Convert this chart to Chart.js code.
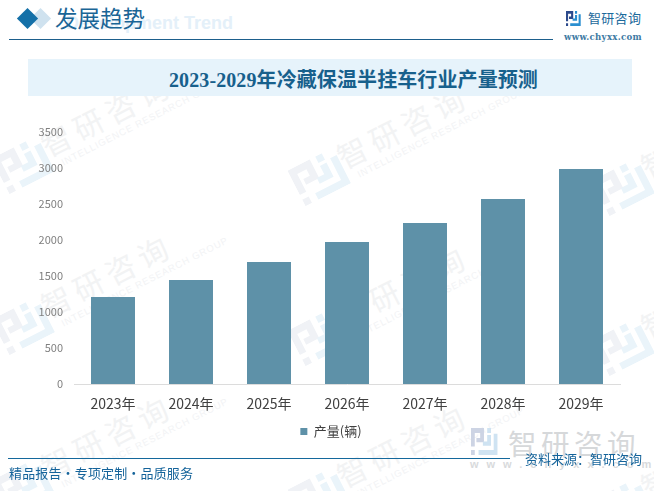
<!DOCTYPE html>
<html>
<head>
<meta charset="utf-8">
<script src="https://cdn.jsdelivr.net/npm/chart.js@4"></script>
<style>
html, body { margin: 0; padding: 0; background: #fff; }
#page { position: relative; width: 654px; height: 491px; overflow: hidden; font-family: "Noto Sans CJK SC", sans-serif; }
#page div, #page svg { position: absolute; white-space: nowrap; }
#marks { left: 0; top: 0; width: 654px; height: 491px; }
.wm { width: 240px; height: 70px; transform: rotate(-27deg); color: #f2f3f4; }
.wm .t { left: 46px; top: 0; font-size: 30px; letter-spacing: 6px; line-height: 40px; }
.wm .e { left: 56px; top: 38px; font-family: "Liberation Sans"; font-size: 9.5px; letter-spacing: .9px; color: #f2f3f5; }
#chartBox { position: absolute; left: 0; top: 0; width: 654px; height: 491px; }
</style>
</head>
<body>
<div id="page">
  <div id="marks"></div>

  <div style="left:33px;top:11px;width:15px;height:15px;background:#cfe2ef;transform:rotate(45deg)"></div>
  <div style="left:20px;top:11px;width:15px;height:15px;background:#1470a8;transform:rotate(45deg)"></div>
  <div style="left:66px;top:11px;font:bold 18px/24px 'Liberation Sans';color:#e4f0f9">Development Trend</div>
  <div style="left:55px;top:1px;font-size:22.5px;line-height:32px;color:#1a6596">发展趋势</div>
  <div style="left:9px;top:39px;width:544px;height:1px;background:#1d5f8c"></div>

  <span id="logoTop"></span>
  <div style="left:588px;top:8px;font-size:13px;line-height:20px;letter-spacing:.3px;color:#1c6a9c">智研咨询</div>
  <div style="left:564px;top:32px;font:bold 8.6px 'DejaVu Serif';letter-spacing:.3px;color:#3d7aa3">www.chyxx.com</div>

  <div style="left:28px;top:59px;width:604px;height:37px;background:#e6f3fb"></div>
  <div id="title" style="left:169px;top:59px;font-weight:bold;font-size:20px;letter-spacing:.1px;line-height:43px;height:37px;color:#17608c;font-family:'Liberation Serif','Noto Sans CJK SC'"></div>

  <span id="logoBottom"></span>
  <div style="left:508px;top:423px;font-size:28.5px;line-height:40px;letter-spacing:4.5px;color:#d6d8da">智研咨询</div>
  <div style="left:470px;top:458px;font:bold 11px 'Liberation Sans';letter-spacing:8px;color:#d8dadc">www.chyxx.com</div>

  <div id="chartBox"><canvas id="grafico" width="654" height="491"></canvas></div>

  <div style="left:8px;top:458px;width:502px;height:1px;background:#14689c"></div>
  <div style="left:9px;top:463px;font-size:13px;line-height:20px;letter-spacing:.15px;color:#14639a">精品报告·专项定制·品质服务</div>
  <div style="left:525px;top:449px;font-size:13px;line-height:20px;color:#14639a">资料来源：智研咨询</div>
</div>

<script>
const chartTitle = '2023-2029年冷藏保温半挂车行业产量预测';
const categories = ['2023年', '2024年', '2025年', '2026年', '2027年', '2028年', '2029年'];
const seriesName = '产量(辆)';
const production = [1208, 1444, 1694, 1972, 2236, 2569, 2986];
const yTicks = [0, 500, 1000, 1500, 2000, 2500, 3000, 3500];

document.getElementById('title').textContent = chartTitle;

// logotipo usado no cabecalho e na marca d'agua
function logo(style, c1, c2, w, h) {
    return '<svg viewBox="0 0 50 38" preserveAspectRatio="none" width="' + w + '" height="' + h + '" style="' + style + '">' +
        '<path fill="' + c1 + '" d="M0 0H24V20H10V14H17V7H7V26H0ZM0 31H7V38H0Z"/>' +
        '<path fill="' + c2 + '" d="M30 0H37V7H30ZM42 8H49V38H14V31H42ZM30 10H37V25H22V19H30Z"/></svg>';
}
document.getElementById('logoTop').innerHTML = logo('left:566px;top:11px', '#2c4a8c', '#2a8fd0', 15, 15);
document.getElementById('logoBottom').innerHTML = logo('left:471px;top:428px', '#cdd4e4', '#cfe3f2', 27, 27);

// marca d'agua de fundo
const marks = document.getElementById('marks');
[[115, 116], [115, 277], [115, 438], [411, 128], [411, 288], [411, 447], [715, 138], [715, 298], [715, 458]].forEach(function (p) {
    const d = document.createElement('div');
    d.className = 'wm';
    d.style.left = (p[0] - 120) + 'px';
    d.style.top = (p[1] - 25) + 'px';
    d.innerHTML = logo('left:-5px;top:8px', '#f0f2f6', '#eaf4fa', 52, 40) +
        '<div class="t">智研咨询</div><div class="e">INTELLIGENCE RESEARCH GROUP</div>';
    marks.appendChild(d);
});

// a legenda fica centrada um pouco a direita do meio do grafico
const legendShift = {
    id: 'legendShift',
    afterLayout: function (chart) {
        chart.legend.left += 42;
    }
};

const grafico = new Chart(document.getElementById('grafico'), {
    type: 'bar',
    plugins: [legendShift],
    data: {
        labels: categories,
        datasets: [{
            label: seriesName,
            data: production,
            backgroundColor: '#5e91a8',
            barPercentage: 0.564,
            categoryPercentage: 1
        }]
    },
    options: {
        responsive: false,
        animation: false,
        layout: {
            padding: { left: 0, right: 34, top: 132, bottom: 43 }
        },
        scales: {
            x: {
                grid: { display: false, drawTicks: false },
                border: { color: '#dcdcdc', width: 1 },
                afterFit: function (axis) {
                    axis.height = 29;
                },
                ticks: {
                    color: '#404040',
                    font: { size: 14, family: '"Noto Sans CJK SC"' },
                    padding: 11,
                    maxRotation: 0
                }
            },
            y: {
                min: 0,
                max: 3500,
                afterBuildTicks: function (axis) {
                    axis.ticks = yTicks.map(v => ({ value: v }));
                },
                afterFit: function (axis) {
                    axis.width = 74;
                },
                grid: { display: false, drawTicks: false },
                border: { display: false },
                ticks: {
                    color: '#808080',
                    font: { size: 11, family: '"Noto Sans CJK SC"' },
                    padding: 11,
                    callback: function (value) {
                        return String(value);
                    }
                }
            }
        },
        plugins: {
            legend: {
                position: 'bottom',
                labels: {
                    boxWidth: 7,
                    boxHeight: 7,
                    color: '#404040',
                    font: { size: 13, family: '"Noto Sans CJK SC"' },
                    padding: 12
                }
            },
            tooltip: { enabled: false }
        }
    }
});
</script>
</body>
</html>
